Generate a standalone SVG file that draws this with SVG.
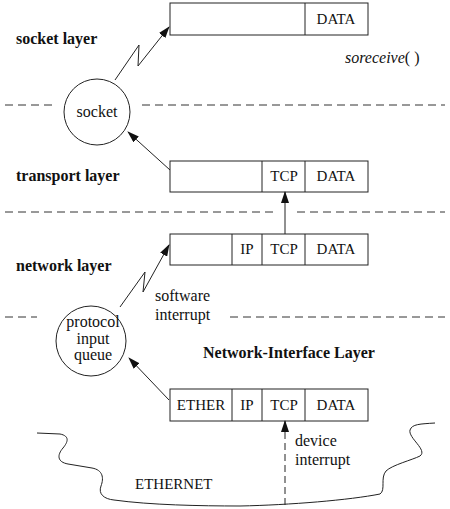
<svg xmlns="http://www.w3.org/2000/svg" width="450" height="509" viewBox="0 0 450 509">
<style>
text{font-family:"Liberation Serif","Times New Roman",serif;font-size:16px;fill:#111}
.b{font-weight:bold;font-size:16px}
.c{text-anchor:middle}
.t{font-size:15px}
.box{fill:#fff;stroke:#222;stroke-width:1}
.dash{stroke:#333;stroke-width:1;stroke-dasharray:8 5;fill:none}
.ln{stroke:#222;stroke-width:1;fill:none}
.circ{fill:#fff;stroke:#222;stroke-width:1}
</style>
<defs>
<marker id="ah" markerUnits="userSpaceOnUse" markerWidth="12" markerHeight="8" refX="11" refY="4" orient="auto">
<path d="M0,0 L12,4 L0,8 Z" fill="#111"/>
</marker>
</defs>

<g id="separators">
<path class="dash" d="M5,105 H57 M142,105 H445"/>
<path class="dash" d="M5,212 H273 M297,212 H445"/>
<path class="dash" d="M5,317 H37 M230,317 H445"/>
</g>

<g id="labels">
<text class="b" x="16" y="44">socket layer</text>
<text class="b" x="16" y="181">transport layer</text>
<text class="b" x="16" y="271">network layer</text>
<text class="b" x="203" y="358">Network-Interface Layer</text>
<text x="345" y="63" font-size="17.5"><tspan font-style="italic">soreceive</tspan>( )</text>
<text x="155" y="301">software</text>
<text x="155" y="320">interrupt</text>
<text x="295" y="446">device</text>
<text x="295" y="465">interrupt</text>
<text class="t" x="135" y="489">ETHERNET</text>
</g>

<g id="ethernet">
<path class="ln" d="M37,433 L60,434 C70,436 68,442 63,448 C57,455 57,462 68,464 L92,468 C103,470 104,478 101,486 C98,494 104,499 114,500 C150,505 200,506 240,506 C290,505 350,500 380,494 C386,490 380,478 386,471 C392,465 412,460 420,456 C428,450 408,438 410,430 C412,424 420,424 435,423"/>
</g>

<g id="socket-buf">
<rect class="box" x="170" y="3" width="198" height="32"/>
<line class="ln" x1="305" y1="3" x2="305" y2="35"/>
<text class="c t" x="336" y="24">DATA</text>
</g>

<g id="socket">
<circle class="circ" cx="97" cy="112" r="33"/>
<text class="c" x="97" y="117">socket</text>
</g>

<g id="transport-buf">
<rect class="box" x="170" y="161" width="198" height="31"/>
<line class="ln" x1="262" y1="161" x2="262" y2="192"/>
<line class="ln" x1="305" y1="161" x2="305" y2="192"/>
<text class="c t" x="284" y="181">TCP</text>
<text class="c t" x="336" y="181">DATA</text>
</g>

<g id="network-buf">
<rect class="box" x="170" y="234" width="198" height="31"/>
<line class="ln" x1="232" y1="234" x2="232" y2="265"/>
<line class="ln" x1="262" y1="234" x2="262" y2="265"/>
<line class="ln" x1="305" y1="234" x2="305" y2="265"/>
<text class="c t" x="247" y="254">IP</text>
<text class="c t" x="284" y="254">TCP</text>
<text class="c t" x="336" y="254">DATA</text>
</g>

<g id="protocol-queue">
<circle class="circ" cx="91" cy="341" r="35"/>
<text class="c" x="93" y="327">protocol</text>
<text class="c" x="93" y="344">input</text>
<text class="c" x="93" y="360">queue</text>
</g>

<g id="ether-buf">
<rect class="box" x="170" y="389" width="198" height="32"/>
<line class="ln" x1="232" y1="389" x2="232" y2="421"/>
<line class="ln" x1="262" y1="389" x2="262" y2="421"/>
<line class="ln" x1="305" y1="389" x2="305" y2="421"/>
<text class="c t" x="201" y="410">ETHER</text>
<text class="c t" x="247" y="410">IP</text>
<text class="c t" x="284" y="410">TCP</text>
<text class="c t" x="336" y="410">DATA</text>
</g>

<g id="connectors">
<polyline class="ln" points="115,80 139,45 138,66 169,27" marker-end="url(#ah)"/>
<line class="ln" x1="170" y1="170" x2="128" y2="132" marker-end="url(#ah)"/>
<line class="ln" x1="285" y1="234" x2="285" y2="192" marker-end="url(#ah)"/>
<polyline class="ln" points="120,307 145,272 143,292 169,245" marker-end="url(#ah)"/>
<line class="ln" x1="169" y1="400" x2="129" y2="358" marker-end="url(#ah)"/>
<line class="ln" x1="285" y1="505" x2="285" y2="421" stroke-dasharray="7 4" marker-end="url(#ah)"/>
</g>
</svg>
